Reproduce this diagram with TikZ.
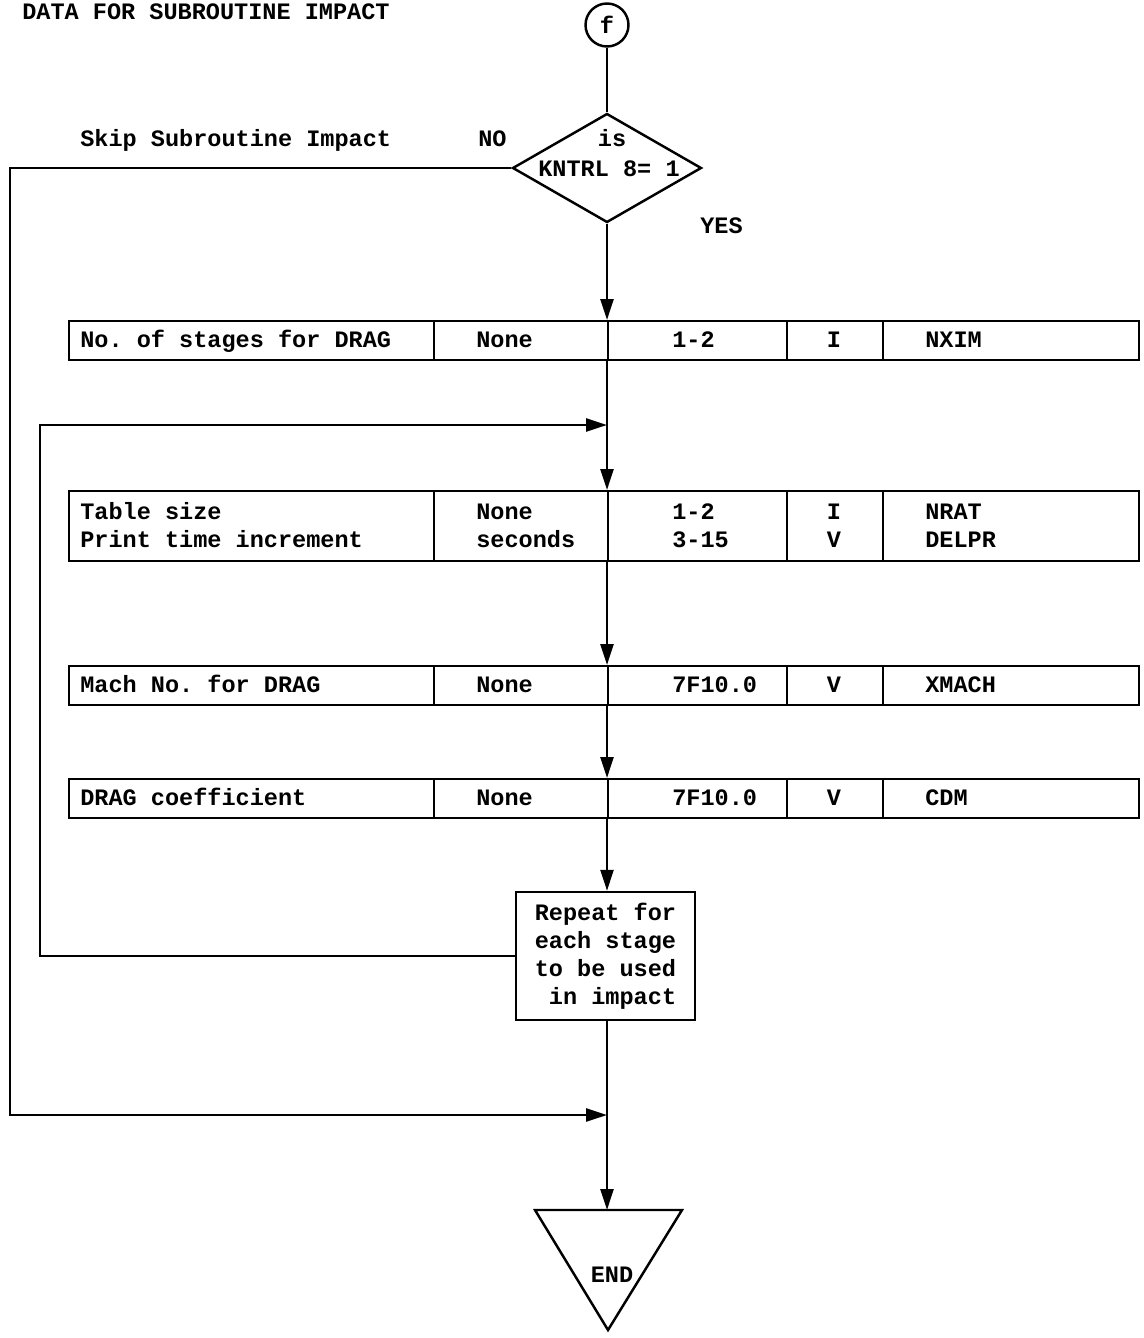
\documentclass[tikz,border=0pt]{standalone}
\usepackage{fontspec}
\setmainfont{Liberation Mono}
\usetikzlibrary{arrows.meta,shapes.geometric}
\frenchspacing
\begin{document}
\begin{tikzpicture}[x=0.02cm,y=-0.02cm,
  font=\fontsize{13.4}{15.9}\selectfont\bfseries\frenchspacing,
  line/.style={line width=1.4pt},
  arr/.style={line,-{Triangle[length=0.42cm,width=0.26cm]}},
  cell/.style={draw,line width=1.3pt,anchor=north west,inner sep=0pt,minimum height=0.78cm},
  txt/.style={anchor=base west,inner sep=0pt},
  ctxt/.style={anchor=base,inner sep=0pt}]
\useasboundingbox (0,0) rectangle (1143,1338);

% title
\node[txt] (title) at (22,20) {DATA FOR SUBROUTINE IMPACT};

% connector f
\node[draw,circle,line width=1.4pt,minimum size=0.86cm,inner sep=0pt] (f) at (607,25) {f};

% decision
\node[draw,diamond,line width=1.4pt,minimum width=3.78cm,minimum height=2.18cm,inner sep=0pt,aspect=1.73] (d) at (607,168) {};
\node[ctxt] (dis) at (612,147) {is};
\node[ctxt] (dk) at (609,177) {KNTRL 8= 1};
\node[txt] (skip) at (80,147) {Skip Subroutine Impact};
\node[txt] (no) at (478,147) {NO};
\node[txt] (yes) at (700,234) {YES};

% row 1
\node[cell,minimum width=7.3cm] (r1a) at (68,320) {};
\node[cell,minimum width=3.48cm] (r1b) at (433,320) {};
\node[cell,minimum width=3.58cm] (r1c) at (607,320) {};
\node[cell,minimum width=1.92cm] (r1d) at (786,320) {};
\node[cell,minimum width=5.12cm] (r1e) at (882,320) {};
\node[txt] (t1a) at (80,347) {No. of stages for DRAG};
\node[txt] (t1b) at (476,347) {None};
\node[txt] (t1c) at (672,347) {1-2};
\node[ctxt] (t1d) at (834,347) {I};
\node[txt] (t1e) at (925,347) {NXIM};

% row 2
\node[cell,minimum width=7.3cm,minimum height=1.4cm] (r2a) at (68,490) {};
\node[cell,minimum width=3.48cm,minimum height=1.4cm] (r2b) at (433,490) {};
\node[cell,minimum width=3.58cm,minimum height=1.4cm] (r2c) at (607,490) {};
\node[cell,minimum width=1.92cm,minimum height=1.4cm] (r2d) at (786,490) {};
\node[cell,minimum width=5.12cm,minimum height=1.4cm] (r2e) at (882,490) {};
\node[txt] (t2a) at (80,519) {Table size};
\node[txt] (t2b) at (476,519) {None};
\node[txt] (t2c) at (672,519) {1-2};
\node[ctxt] (t2d) at (834,519) {I};
\node[txt] (t2e) at (925,519) {NRAT};
\node[txt] (t2f) at (80,547) {Print time increment};
\node[txt] (t2g) at (476,547) {seconds};
\node[txt] (t2h) at (672,547) {3-15};
\node[ctxt] (t2i) at (834,547) {V};
\node[txt] (t2j) at (925,547) {DELPR};

% row 3
\node[cell,minimum width=7.3cm] (r3a) at (68,665) {};
\node[cell,minimum width=3.48cm] (r3b) at (433,665) {};
\node[cell,minimum width=3.58cm] (r3c) at (607,665) {};
\node[cell,minimum width=1.92cm] (r3d) at (786,665) {};
\node[cell,minimum width=5.12cm] (r3e) at (882,665) {};
\node[txt] (t3a) at (80,692) {Mach No. for DRAG};
\node[txt] (t3b) at (476,692) {None};
\node[txt] (t3c) at (672,692) {7F10.0};
\node[ctxt] (t3d) at (834,692) {V};
\node[txt] (t3e) at (925,692) {XMACH};

% row 4
\node[cell,minimum width=7.3cm] (r4a) at (68,778) {};
\node[cell,minimum width=3.48cm] (r4b) at (433,778) {};
\node[cell,minimum width=3.58cm] (r4c) at (607,778) {};
\node[cell,minimum width=1.92cm] (r4d) at (786,778) {};
\node[cell,minimum width=5.12cm] (r4e) at (882,778) {};
\node[txt] (t4a) at (80,805) {DRAG coefficient};
\node[txt] (t4b) at (476,805) {None};
\node[txt] (t4c) at (672,805) {7F10.0};
\node[ctxt] (t4d) at (834,805) {V};
\node[txt] (t4e) at (925,805) {CDM};

% repeat box
\node[draw,line width=1.4pt,minimum width=3.58cm,minimum height=2.56cm,inner sep=0pt,align=left] (rep) at (605.5,956)
  {Repeat for\\each stage\\to be used\\~in impact};

% end triangle
\draw[line] (535,1210) -- (682,1210) -- (608,1330) -- cycle;
\coordinate (endtop) at (607,1210);
\node[ctxt] (endt) at (612,1282) {END};

% junctions
\coordinate (j1) at (607,425);
\coordinate (lc) at (40,425);
\coordinate (j2) at (607,1115);
\coordinate (nc) at (10,1115);

% connectors
\draw[line] (f) -- (d.north);
\draw[arr] (d.south) -- (r1c.north west);
\draw[line] (r1c.south west) -- (j1);
\draw[arr] (j1) -- (r2c.north west);
\draw[arr] (r2c.south west) -- (r3c.north west);
\draw[arr] (r3c.south west) -- (r4c.north west);
\draw[arr] (r4c.south west) -- (rep.north -| r4c.south west);
\draw[arr] (rep.west) -| (lc) -- (j1);
\draw[line] (rep.south -| j2) -- (j2);
\draw[arr] (j2) -- (endtop);
\draw[arr] (d.west) -| (nc) -- (j2);
\end{tikzpicture}
\end{document}
